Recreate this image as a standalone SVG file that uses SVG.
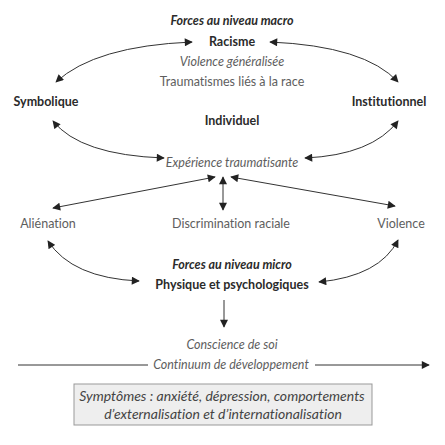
<svg xmlns="http://www.w3.org/2000/svg" width="445" height="445" viewBox="0 0 445 445">
<defs>
<style>
text{font-family:Lato,"Open Sans","Liberation Sans",sans-serif;text-anchor:middle;font-variant-ligatures:none}
.b{font-weight:bold;fill:#2b2b2b;font-size:12.5px}
.bi{font-weight:bold;font-style:italic;fill:#2b2b2b;font-size:12.5px}
.g{fill:#5e5e5e;font-size:12.5px}
.gi{fill:#5e5e5e;font-style:italic;font-size:12.5px}
.s{fill:#444;font-style:italic;font-size:14px}
.c{fill:none;stroke:#333;stroke-width:1}
</style>
<marker id="ah" viewBox="0 0 10 10" refX="9" refY="5" markerWidth="9" markerHeight="8" markerUnits="userSpaceOnUse" orient="auto-start-reverse">
<path d="M0,0 L10,5 L0,10 z" fill="#222"/>
</marker>
</defs>
<rect width="445" height="445" fill="#fff"/>
<g id="connectors">
<path class="c" d="M192 42 Q 95 46 56 82" marker-start="url(#ah)" marker-end="url(#ah)"/>
<path class="c" d="M270 42 Q 365 46 398 82" marker-start="url(#ah)" marker-end="url(#ah)"/>
<path class="c" d="M53 121 Q 80 155 164 158" marker-start="url(#ah)" marker-end="url(#ah)"/>
<path class="c" d="M398 121 Q 372 155 305 158" marker-start="url(#ah)" marker-end="url(#ah)"/>
<path class="c" d="M215 177 L53 208" marker-start="url(#ah)" marker-end="url(#ah)"/>
<path class="c" d="M223 177 L223 210" marker-start="url(#ah)" marker-end="url(#ah)"/>
<path class="c" d="M231 177 L395 206" marker-start="url(#ah)" marker-end="url(#ah)"/>
<path class="c" d="M48 241 Q 72 278 139 281" marker-start="url(#ah)" marker-end="url(#ah)"/>
<path class="c" d="M398 240 Q 380 276 319 282" marker-start="url(#ah)" marker-end="url(#ah)"/>
<path class="c" d="M224 300 L224 327" marker-end="url(#ah)"/>
<path class="c" d="M18 365 L148 365"/>
<path class="c" d="M315 365 L429 365" marker-end="url(#ah)"/>
</g>
<g id="macro"><text class="bi" x="232" y="25">Forces au niveau macro</text></g>
<g id="racisme"><text class="b" x="232" y="46">Racisme</text></g>
<g id="violence-gen"><text class="gi" x="232" y="66">Violence généralisée</text></g>
<g id="traumatismes"><text class="g" x="232" y="86">Traumatismes liés à la race</text></g>
<g id="symbolique"><text class="b" x="46" y="106">Symbolique</text></g>
<g id="institutionnel"><text class="b" x="389" y="106">Institutionnel</text></g>
<g id="individuel"><text class="b" x="232" y="125">Individuel</text></g>
<g id="experience"><text class="gi" x="232" y="167">Expérience traumatisante</text></g>
<g id="alienation"><text class="g" x="48" y="228">Aliénation</text></g>
<g id="discrimination"><text class="g" x="231" y="228">Discrimination raciale</text></g>
<g id="violence"><text class="g" x="401" y="228">Violence</text></g>
<g id="micro"><text class="bi" x="232" y="269">Forces au niveau micro</text></g>
<g id="physique"><text class="b" x="232" y="289">Physique et psychologiques</text></g>
<g id="conscience"><text class="gi" x="232" y="349">Conscience de soi</text></g>
<g id="continuum"><text class="gi" x="231" y="369">Continuum de développement</text></g>
<g id="symptomes">
<rect x="74" y="384" width="298" height="41" fill="#eeeeee" stroke="#999" stroke-width="1"/>
<text class="s" x="222" y="401">Symptômes : anxiété, dépression, comportements</text>
<text class="s" x="223" y="419">d’externalisation et d’internationalisation</text>
</g>
</svg>
